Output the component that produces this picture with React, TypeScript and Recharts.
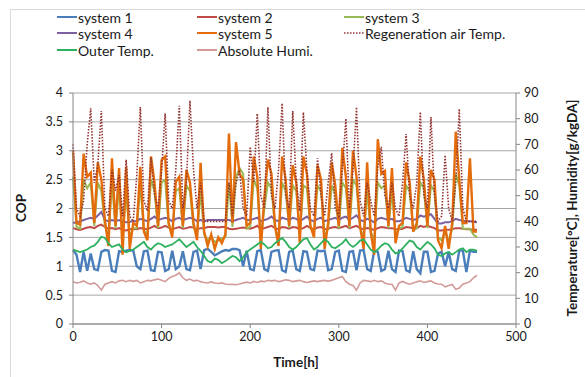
import React from 'react';
import { LineChart, Line, XAxis, YAxis, CartesianGrid } from 'recharts';

const time = [0,4,8,12,16,20,24,28,32,36,40,44,48,52,56,60,64,68,72,76,80,84,88,92,96,100,104,108,112,116,120,124,128,132,136,140,144,148,152,156,160,164,168,172,176,180,184,188,192,196,200,204,208,212,216,220,224,228,232,236,240,244,248,252,256,260,264,268,272,276,280,284,288,292,296,300,304,308,312,316,320,324,328,332,336,340,344,348,352,356,360,364,368,372,376,380,384,388,392,396,400,404,408,412,416,420,424,428,432,436,440,444,448,452,456];

const system1 = [1.28,1.2,0.9,1.25,0.92,1.22,0.95,0.93,1.25,1.28,1.27,0.92,0.9,1.26,1.25,1.27,1.28,1.27,1.0,0.95,1.26,1.27,0.93,0.92,1.25,1.24,0.92,0.95,1.27,0.95,1.0,1.26,0.95,0.93,1.25,1.27,0.95,1.28,1.3,1.25,1.19,1.22,1.26,1.28,1.27,1.3,1.3,1.28,1.0,1.27,0.95,0.93,1.26,1.28,0.95,0.92,1.25,1.27,1.28,0.93,0.9,1.25,1.27,0.95,0.92,1.26,1.25,0.95,0.93,1.27,1.26,1.27,0.93,0.95,1.25,1.27,0.92,0.9,1.25,1.26,0.93,1.27,1.28,0.95,0.92,1.27,1.25,0.92,0.95,1.27,0.95,0.9,1.27,1.26,0.93,0.9,1.26,0.95,0.88,1.25,1.25,0.9,0.92,1.22,1.25,1.0,1.25,0.95,0.92,1.27,1.27,0.9,1.27,1.25,1.25];
const system2 = [1.66,1.64,1.63,1.65,1.67,1.68,1.66,1.7,1.72,1.68,1.65,1.66,1.64,1.66,1.63,1.62,1.64,1.65,1.64,1.66,1.65,1.64,1.67,1.7,1.66,1.67,1.7,1.67,1.64,1.66,1.68,1.65,1.66,1.68,1.67,1.64,1.66,1.66,1.68,1.68,1.68,1.67,1.68,1.68,1.65,1.64,1.65,1.66,1.67,1.66,1.65,1.67,1.7,1.64,1.66,1.68,1.7,1.66,1.64,1.68,1.67,1.65,1.68,1.67,1.64,1.66,1.7,1.66,1.64,1.67,1.68,1.64,1.65,1.67,1.68,1.66,1.68,1.7,1.66,1.68,1.7,1.66,1.64,1.66,1.65,1.63,1.66,1.68,1.67,1.66,1.66,1.64,1.64,1.65,1.68,1.67,1.66,1.66,1.7,1.68,1.7,1.68,1.66,1.62,1.62,1.63,1.63,1.64,1.66,1.66,1.65,1.64,1.64,1.63,1.63];
const system3 = [2.55,1.68,1.65,2.5,2.35,2.45,1.7,2.45,2.3,1.7,1.5,2.45,1.65,2.4,1.55,2.3,1.5,1.66,1.66,2.4,1.62,1.55,2.5,2.3,1.66,2.45,2.5,1.68,1.58,2.3,2.35,1.66,2.4,2.3,1.68,1.55,2.3,1.55,1.45,1.5,1.42,1.45,1.48,1.5,2.45,1.68,2.55,2.7,2.6,1.65,1.68,2.5,2.35,1.5,2.0,2.45,2.35,1.66,1.5,2.45,2.3,1.66,2.4,2.3,1.55,2.4,2.35,1.66,1.58,2.4,2.3,1.5,1.66,2.4,2.25,1.65,2.45,2.35,1.66,2.5,2.4,1.66,1.5,2.3,1.6,1.45,2.45,2.35,2.4,1.66,2.3,1.55,1.65,1.68,2.4,2.3,1.62,1.66,2.45,2.35,1.66,2.4,2.3,1.5,1.45,1.6,1.45,1.65,2.6,2.4,1.65,1.65,1.65,1.55,1.5];
const system4 = [1.75,1.76,1.78,1.8,1.82,1.84,1.82,1.88,1.94,1.8,1.78,1.8,1.78,1.8,1.77,1.76,1.77,1.78,1.78,1.82,1.8,1.78,1.82,1.86,1.8,1.82,1.84,1.82,1.78,1.82,1.84,1.8,1.82,1.84,1.82,1.78,1.8,1.78,1.8,1.8,1.8,1.8,1.8,1.8,1.8,1.78,1.8,1.82,1.84,1.8,1.8,1.82,1.84,1.78,1.8,1.82,1.86,1.8,1.78,1.84,1.82,1.8,1.84,1.82,1.78,1.82,1.86,1.8,1.78,1.82,1.84,1.78,1.8,1.82,1.84,1.8,1.84,1.86,1.8,1.84,1.88,1.8,1.78,1.82,1.8,1.76,1.82,1.84,1.82,1.8,1.82,1.78,1.78,1.8,1.84,1.82,1.8,1.82,1.88,1.86,1.88,1.9,1.82,1.74,1.74,1.76,1.76,1.78,1.82,1.8,1.79,1.78,1.78,1.77,1.76];
const system5 = [3.0,1.75,1.72,2.95,2.55,2.62,1.75,2.8,2.5,1.8,1.35,2.87,1.7,2.7,1.2,2.72,1.3,1.75,1.7,2.72,1.6,1.45,2.9,2.45,1.7,2.84,2.9,1.75,1.5,2.46,2.55,1.7,2.67,2.45,1.75,1.45,2.79,1.6,1.35,1.55,1.3,1.5,1.4,1.55,3.3,1.75,3.15,2.6,2.5,1.7,1.75,2.9,2.55,1.3,2.2,2.85,2.6,1.7,1.35,2.9,2.5,1.7,2.75,2.45,1.4,2.9,2.6,1.7,1.5,2.75,2.5,1.3,1.75,2.8,2.4,1.7,3.05,2.55,1.7,3.0,2.55,1.7,1.3,2.8,1.6,1.2,3.2,2.6,2.65,1.7,2.7,1.4,1.7,1.75,2.8,2.45,1.6,1.75,2.9,2.5,1.7,2.67,2.5,1.45,1.31,1.7,1.3,1.75,3.33,2.5,1.75,1.75,2.87,1.6,1.6];
const regenTemp = [70,45,42,48,70,84,55,62,83,45,42,60,52,58,42,64,42,40,58,84.5,48,44,65,50,45,60,82,48,45,60,85,45,55,87,60,45,55,40,40,40,40,40,40,40,55,42,55,60,45,42,69,55,82,50,45,84.5,50,45,60,86,50,45,83,55,44,82.5,60,45,42,64.6,50,42,55,66.6,45,42,60,80,45,60,84.5,48,42,55,48,42,61,69,50,45,55,45,42,55,74,50,45,55,82.6,50,45,80.6,50,40,42,65.8,45,40,55,83.8,45,40,40,40,40];
const outerTemp = [29,28.5,28,28.5,29,30,30.5,32,34,33.5,31.5,30,30.5,31,29,28,28.5,29,30,31,32,30,29,30.5,31.5,31,30,30.5,31,32,33,31.5,30,31,32,30,28.5,26.5,24.5,24,25.5,25,23.7,24.5,25.5,26.5,26,24.5,26,28,29,30,31,32,31,29.5,30,31.5,32.5,33.5,32,30,29,30,31.5,33,33.5,31,29,30,31.5,33,32,30,29.5,30.5,31.5,33,31,30,31,32.5,33,31,29,28,29,30.5,31.5,31,29,27.5,28,29.5,31,32.5,32,30,29,30.5,32,31,29.5,27,26.5,27.5,28,27,28,29,29.5,28,29,29,28.5];
const absHumi = [16.5,16,16.3,16.8,16,15.5,16,15,13.2,15.5,16,16.5,16,16.8,17,16.5,17,16.6,17,16,16.5,17,16.8,17.2,17.5,17,16.5,17.8,18.5,19,19.9,18,17,17.5,16.8,17,16.5,16.2,16,16.4,16,15.8,16,15.6,15.4,15.5,15.3,15.6,16,16.3,16,16.6,16.2,16.7,16.5,17,16.8,17,16.5,16.8,17.2,17,16.5,16.8,17,16.5,16.2,16.5,16.8,16.5,16.8,17,16.7,17,17.5,18,18.5,16.5,15.5,15,13.2,16,17,16.8,16.5,17,16.5,16.8,16,15.5,15.5,13.2,16,16.6,16,15.5,16,16.5,16.8,16.2,16.5,16.8,16,15.6,15.5,14.5,15,15.4,13.5,14,15.5,16,16.5,18,19];

const xTicks = [0, 100, 200, 300, 400, 500];
const copTicks = [0, 0.5, 1, 1.5, 2, 2.5, 3, 3.5, 4];
const tempTicks = [0, 10, 20, 30, 40, 50, 60, 70, 80, 90];

const series = [
  { key: 's1', name: 'system 1', color: '#4A7EBB', axis: 'cop', width: 2.4, dash: undefined as string | undefined },
  { key: 's2', name: 'system 2', color: '#BE4B48', axis: 'cop', width: 2, dash: undefined },
  { key: 's3', name: 'system 3', color: '#98B954', axis: 'cop', width: 2, dash: undefined },
  { key: 's4', name: 'system 4', color: '#7D60A0', axis: 'cop', width: 2, dash: undefined },
  { key: 's5', name: 'system 5', color: '#E46C0A', axis: 'cop', width: 2.4, dash: undefined },
  { key: 'regen', name: 'Regeneration air Temp.', color: '#943634', axis: 'temp', width: 1.6, dash: '1.5 1.5' },
  { key: 'outer', name: 'Outer Temp.', color: '#2EB15E', axis: 'temp', width: 1.8, dash: undefined },
  { key: 'humi', name: 'Absolute Humi.', color: '#D39A9A', axis: 'temp', width: 1.6, dash: undefined },
];

const data = time.map((t, i) => ({
  t,
  s1: system1[i],
  s2: system2[i],
  s3: system3[i],
  s4: system4[i],
  s5: system5[i],
  regen: regenTemp[i],
  outer: outerTemp[i],
  humi: absHumi[i],
}));

const legendPos = [
  { left: 57, top: 9 }, { left: 197, top: 9 }, { left: 344, top: 9 },
  { left: 57, top: 25 }, { left: 197, top: 25 }, { left: 344, top: 25 },
  { left: 57, top: 42 }, { left: 197, top: 42 },
];

const FONT = 'Lato, "Liberation Sans", sans-serif';
const tickStyle = { fontSize: 12.5, fill: '#1a1a1a', fontFamily: FONT };
const titleStyle = { position: 'absolute' as const, fontSize: 13.5, fontWeight: 700, whiteSpace: 'nowrap' as const, color: '#1a1a1a' };

export default function App() {
  return (
    <div style={{ position: 'fixed', left: 0, top: 0, width: 585, height: 377, background: '#fff', overflow: 'hidden', fontFamily: FONT }}>
      <div style={{ position: 'absolute', left: 10, top: 9, width: 620, height: 420, border: '1px solid #D9D9D9' }} />
      {series.map((s, i) => (
        <div key={s.key} style={{ position: 'absolute', left: legendPos[i].left, top: legendPos[i].top, height: 16, display: 'flex', alignItems: 'center', fontSize: 14, color: '#1a1a1a', whiteSpace: 'nowrap' }}>
          <svg width={20} height={4} style={{ marginRight: 1 }}>
            <line x1={0} y1={2} x2={20} y2={2} stroke={s.color} strokeWidth={s.dash ? 1.6 : 2} strokeDasharray={s.dash} />
          </svg>
          <span>{s.name}</span>
        </div>
      ))}
      <div style={{ position: 'absolute', left: 0, top: 0 }}>
        <LineChart width={585} height={377} data={data} margin={{ top: 93, right: 24, bottom: 23, left: 33 }}>
          <CartesianGrid yAxisId="cop" horizontal vertical={false} stroke="#A6A6A6" strokeWidth={1} />
          <XAxis dataKey="t" type="number" domain={[0, 500]} ticks={xTicks} interval={0} height={30} stroke="#868686" tick={tickStyle} tickSize={4} tickMargin={4} />
          <YAxis yAxisId="cop" domain={[0, 4]} ticks={copTicks} interval={0} width={40} stroke="#868686" tick={tickStyle} tickSize={4} tickMargin={6} />
          <YAxis yAxisId="temp" orientation="right" domain={[0, 90]} ticks={tempTicks} interval={0} width={45} stroke="#868686" tick={tickStyle} tickSize={4} tickMargin={4} />
          {series.map((s) => (
            <Line key={s.key} yAxisId={s.axis} dataKey={s.key} name={s.name} type="linear" stroke={s.color} strokeWidth={s.width} strokeDasharray={s.dash} dot={false} activeDot={false} isAnimationActive={false} />
          ))}
        </LineChart>
      </div>
      <div style={{ ...titleStyle, left: 21, top: 208, transform: 'translate(-50%, -50%) rotate(-90deg)' }}>COP</div>
      <div style={{ ...titleStyle, left: 296, top: 362, transform: 'translate(-50%, -50%)' }}>Time[h]</div>
      <div style={{ ...titleStyle, left: 572, top: 208, transform: 'translate(-50%, -50%) rotate(-90deg)' }}>Temperature[°C], Humidity[g/kgDA]</div>
    </div>
  );
}
